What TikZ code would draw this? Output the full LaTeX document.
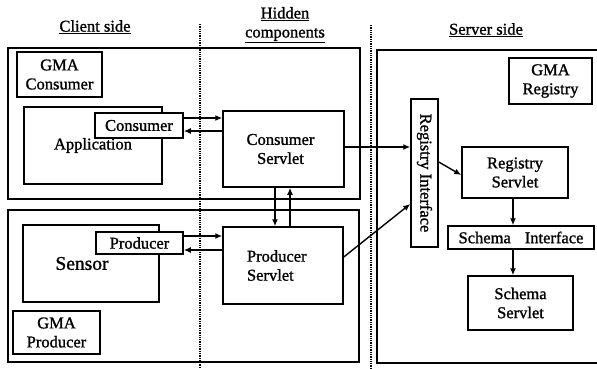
\documentclass[tikz,border=0pt]{standalone}
\usepackage{fontspec}
\setmainfont{Liberation Serif}[FakeBold=1.2]
\usetikzlibrary{arrows.meta}
\tikzset{
  txt/.style={font=\fontsize{16.5}{19}\selectfont, inner sep=0pt},
  box/.style={draw, line width=1.5pt, inner sep=0pt, align=center, font=\fontsize{16.5}{19}\selectfont},
  frame/.style={draw, line width=1.7pt, inner sep=0pt},
  arr/.style={line width=1.4pt, -{Latex[length=7pt,width=6pt]}},
  sep/.style={line width=1.3pt, densely dotted},
}
\begin{document}
\begin{tikzpicture}[x=1pt,y=-1pt]
\useasboundingbox (0,0) rectangle (597,369);
% dotted separators
\draw[sep] (200,24) -- (200,369);
\draw[sep] (371,25) -- (371,369);
% titles
\node[txt] (tclient) at (95,27) {\underline{Client side}};
\node[txt, align=center] (thidden) at (285,25) {\underline{Hidden}\\\underline{components}};
\node[txt] (tserver) at (486,30) {\underline{Server side}};
% outer frames
\node[frame, minimum width=352pt, minimum height=151pt] (gmac) at (184,123.5) {};
\node[frame, minimum width=351pt, minimum height=152pt] (gmap) at (183.5,286) {};
\node[frame, minimum width=240pt, minimum height=313pt] (server) at (497,206.5) {};
% client consumer side
\node[box, minimum width=85pt, minimum height=45pt] (gmaclabel) at (59.5,74.5) {GMA\\Consumer};
\node[box, minimum width=138pt, minimum height=77pt] (app) at (93,145.5) {Application};
\node[box, fill=white, minimum width=88pt, minimum height=25pt] (consumer) at (139,125.5) {Consumer};
\node[box, minimum width=121pt, minimum height=76pt] (cserv) at (283.5,149) {\hspace*{-6pt}Consumer\\\hspace*{-6pt}Servlet};
% producer side
\node[box, minimum width=136pt, minimum height=77pt, font=\fontsize{19.5}{22}\selectfont] (sensor) at (91,263.5) {Sensor\hspace{18pt}};
\node[box, fill=white, minimum width=87pt, minimum height=22pt] (producer) at (139.5,243) {Producer};
\node[box, minimum width=120pt, minimum height=77pt, text width=72pt, inner xsep=24pt, align=left] (pserv) at (283,265.5) {Producer\\Servlet};
\node[box, minimum width=87pt, minimum height=43pt] (gmaplabel) at (56.5,332.5) {GMA\\Producer};
% server side
\node[box, minimum width=27pt, minimum height=148pt] (regint) at (424.5,173) {\rotatebox{-90}{Registry Interface}};
\node[box, minimum width=83pt, minimum height=46pt] (gmarlabel) at (550.5,81) {GMA\\Registry};
\node[box, minimum width=106pt, minimum height=51pt] (regserv) at (515,172.5) {Registry\\Servlet};
\node[box, minimum width=146pt, minimum height=23pt] (schemaint) at (521,237.5) {Schema\hspace{14pt}Interface};
\node[box, minimum width=105pt, minimum height=54pt] (schemaserv) at (520.5,303) {Schema\\Servlet};
% connectors
\draw[arr] (consumer.east |- 0,118) -- (cserv.west |- 0,118);
\draw[arr] (cserv.west |- 0,131) -- (consumer.east |- 0,131);
\draw[arr] (producer.east |- 0,236) -- (pserv.west |- 0,236);
\draw[arr] (pserv.west |- 0,250) -- (producer.east |- 0,250);
\draw[arr] (cserv.south -| 275,0) -- (pserv.north -| 275,0);
\draw[arr] (pserv.north -| 290,0) -- (cserv.south -| 290,0);
\draw[arr] (cserv.east |- 0,147) -- (regint.west |- 0,147);
\draw[arr] (pserv.east |- 0,257) -- (regint.west |- 0,204);
\draw[arr] (regint.east |- 0,162) -- (regserv.west |- 0,175);
\draw[arr] (regserv.south -| 513,0) -- (schemaint.north -| 513,0);
\draw[arr] (schemaint.south -| 513,0) -- (schemaserv.north -| 513,0);
\end{tikzpicture}
\end{document}
